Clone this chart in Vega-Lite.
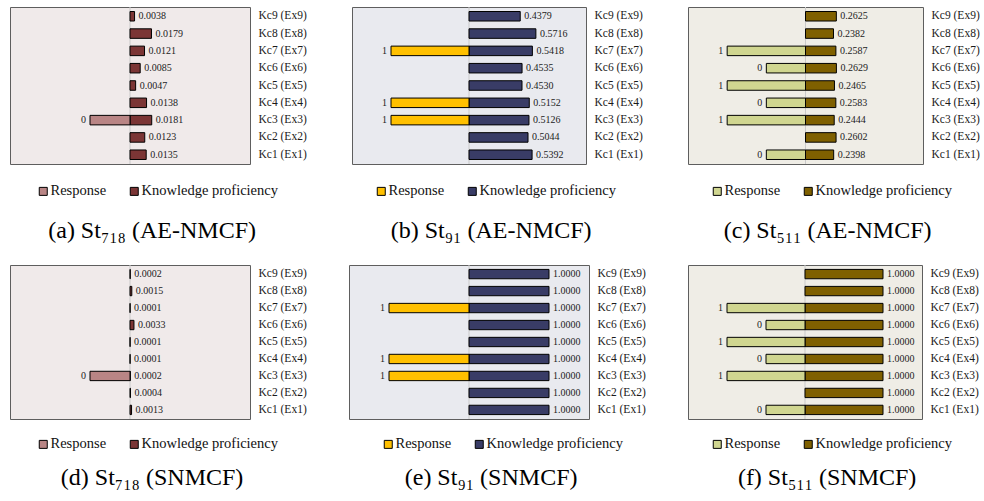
{
  "$schema": "https://vega.github.io/schema/vega-lite/v6.json",
  "padding": {"left": 9, "top": 6, "right": 0, "bottom": 0},
  "background": "white",
  "datasets": {
    "rows": [
      {"panel": "a", "kc": "Kc1 (Ex1)", "kp": 0.0135},
      {"panel": "a", "kc": "Kc2 (Ex2)", "kp": 0.0123},
      {"panel": "a", "kc": "Kc3 (Ex3)", "kp": 0.0181, "resp": 0},
      {"panel": "a", "kc": "Kc4 (Ex4)", "kp": 0.0138},
      {"panel": "a", "kc": "Kc5 (Ex5)", "kp": 0.0047},
      {"panel": "a", "kc": "Kc6 (Ex6)", "kp": 0.0085},
      {"panel": "a", "kc": "Kc7 (Ex7)", "kp": 0.0121},
      {"panel": "a", "kc": "Kc8 (Ex8)", "kp": 0.0179},
      {"panel": "a", "kc": "Kc9 (Ex9)", "kp": 0.0038},
      {"panel": "b", "kc": "Kc1 (Ex1)", "kp": 0.5392},
      {"panel": "b", "kc": "Kc2 (Ex2)", "kp": 0.5044},
      {"panel": "b", "kc": "Kc3 (Ex3)", "kp": 0.5126, "resp": 1},
      {"panel": "b", "kc": "Kc4 (Ex4)", "kp": 0.5152, "resp": 1},
      {"panel": "b", "kc": "Kc5 (Ex5)", "kp": 0.4530},
      {"panel": "b", "kc": "Kc6 (Ex6)", "kp": 0.4535},
      {"panel": "b", "kc": "Kc7 (Ex7)", "kp": 0.5418, "resp": 1},
      {"panel": "b", "kc": "Kc8 (Ex8)", "kp": 0.5716},
      {"panel": "b", "kc": "Kc9 (Ex9)", "kp": 0.4379},
      {"panel": "c", "kc": "Kc1 (Ex1)", "kp": 0.2398, "resp": 0},
      {"panel": "c", "kc": "Kc2 (Ex2)", "kp": 0.2602},
      {"panel": "c", "kc": "Kc3 (Ex3)", "kp": 0.2444, "resp": 1},
      {"panel": "c", "kc": "Kc4 (Ex4)", "kp": 0.2583, "resp": 0},
      {"panel": "c", "kc": "Kc5 (Ex5)", "kp": 0.2465, "resp": 1},
      {"panel": "c", "kc": "Kc6 (Ex6)", "kp": 0.2629, "resp": 0},
      {"panel": "c", "kc": "Kc7 (Ex7)", "kp": 0.2587, "resp": 1},
      {"panel": "c", "kc": "Kc8 (Ex8)", "kp": 0.2382},
      {"panel": "c", "kc": "Kc9 (Ex9)", "kp": 0.2625},
      {"panel": "d", "kc": "Kc1 (Ex1)", "kp": 0.0013},
      {"panel": "d", "kc": "Kc2 (Ex2)", "kp": 0.0004},
      {"panel": "d", "kc": "Kc3 (Ex3)", "kp": 0.0002, "resp": 0},
      {"panel": "d", "kc": "Kc4 (Ex4)", "kp": 0.0001},
      {"panel": "d", "kc": "Kc5 (Ex5)", "kp": 0.0001},
      {"panel": "d", "kc": "Kc6 (Ex6)", "kp": 0.0033},
      {"panel": "d", "kc": "Kc7 (Ex7)", "kp": 0.0001},
      {"panel": "d", "kc": "Kc8 (Ex8)", "kp": 0.0015},
      {"panel": "d", "kc": "Kc9 (Ex9)", "kp": 0.0002},
      {"panel": "e", "kc": "Kc1 (Ex1)", "kp": 1.0},
      {"panel": "e", "kc": "Kc2 (Ex2)", "kp": 1.0},
      {"panel": "e", "kc": "Kc3 (Ex3)", "kp": 1.0, "resp": 1},
      {"panel": "e", "kc": "Kc4 (Ex4)", "kp": 1.0, "resp": 1},
      {"panel": "e", "kc": "Kc5 (Ex5)", "kp": 1.0},
      {"panel": "e", "kc": "Kc6 (Ex6)", "kp": 1.0},
      {"panel": "e", "kc": "Kc7 (Ex7)", "kp": 1.0, "resp": 1},
      {"panel": "e", "kc": "Kc8 (Ex8)", "kp": 1.0},
      {"panel": "e", "kc": "Kc9 (Ex9)", "kp": 1.0},
      {"panel": "f", "kc": "Kc1 (Ex1)", "kp": 1.0, "resp": 0},
      {"panel": "f", "kc": "Kc2 (Ex2)", "kp": 1.0},
      {"panel": "f", "kc": "Kc3 (Ex3)", "kp": 1.0, "resp": 1},
      {"panel": "f", "kc": "Kc4 (Ex4)", "kp": 1.0, "resp": 0},
      {"panel": "f", "kc": "Kc5 (Ex5)", "kp": 1.0, "resp": 1},
      {"panel": "f", "kc": "Kc6 (Ex6)", "kp": 1.0, "resp": 0},
      {"panel": "f", "kc": "Kc7 (Ex7)", "kp": 1.0, "resp": 1},
      {"panel": "f", "kc": "Kc8 (Ex8)", "kp": 1.0},
      {"panel": "f", "kc": "Kc9 (Ex9)", "kp": 1.0}
    ]
  },
  "data": {"name": "rows"},
  "config": {
    "view": {"stroke": null},
    "axis": {"labelFont": "Liberation Serif", "labelFontSize": 11.5, "labelColor": "#1a1a1a", "ticks": false, "domain": false, "grid": false, "labelPadding": 8, "title": null},
    "legend": {"orient": "none", "direction": "horizontal", "title": null, "symbolType": "square", "symbolSize": 64, "symbolStrokeColor": "#000", "symbolStrokeWidth": 1, "symbolOpacity": 1, "labelFont": "Liberation Serif", "labelFontSize": 14.5, "labelColor": "#111", "columnPadding": 20, "labelOffset": 0},
    "title": {"font": "Liberation Serif", "fontSize": 24, "fontWeight": "normal", "color": "#000", "orient": "bottom", "anchor": "middle", "frame": "bounds", "offset": 21, "dx": -6},
    "text": {"font": "Liberation Serif", "fontSize": 10, "color": "#222"}
  },
  "resolve": {"scale": {"color": "independent", "x": "independent", "y": "independent"}},
  "spacing": 20,
  "vconcat": [
    {
      "spacing": 44,
      "resolve": {"scale": {"color": "independent", "x": "independent", "y": "independent"}},
      "hconcat": [
        {
          "width": 240, "height": 157,
          "view": {"fill": "#f0eaea", "stroke": "#5e5e5e", "strokeWidth": 1},
          "title": {"text": "(a) St₇₁₈ (AE-NMCF)"},
          "resolve": {"scale": {"x": "independent"}},
          "layer": [
            {"data": {"values": [{}]}, "mark": {"type": "rule", "color": "#c9c9c9"}, "encoding": {"x": {"datum": 0, "type": "quantitative", "scale": {"domain": [-0.1, 0.1], "nice": false}, "axis": null}}},
            {
              "transform": [{"filter": "datum.panel === 'a'"}],
              "encoding": {
                "y": {"field": "kc", "type": "nominal", "sort": "descending", "scale": {"paddingInner": 0.45, "paddingOuter": 0.26}, "axis": {"orient": "right"}},
                "x": {"field": "kp", "type": "quantitative", "scale": {"domain": [-0.1, 0.1], "nice": false}, "axis": null}
              },
              "layer": [
                {"mark": {"type": "bar", "stroke": "#000", "strokeWidth": 1}, "encoding": {"x2": {"datum": 0}, "color": {"datum": "Knowledge proficiency", "scale": {"domain": ["Response", "Knowledge proficiency"], "range": ["#b98585", "#7b3535"]}, "legend": {"legendX": 26, "legendY": 177}}}},
                {"mark": {"type": "text", "align": "left", "dx": 4}, "encoding": {"text": {"field": "kp", "format": ".4f"}}}
              ]
            },
            {
              "transform": [{"filter": "datum.panel === 'a' && isValid(datum.resp)"}],
              "encoding": {
                "y": {"field": "kc", "type": "nominal", "sort": "descending", "scale": {"paddingInner": 0.45, "paddingOuter": 0.26}, "axis": {"orient": "right"}},
                "x": {"field": "resp", "type": "quantitative", "scale": {"domain": [-4, 2], "reverse": true, "nice": false, "zero": false}, "axis": null}
              },
              "layer": [
                {"mark": {"type": "bar", "stroke": "#000", "strokeWidth": 1}, "encoding": {"x2": {"datum": -1}, "color": {"datum": "Response", "scale": {"domain": ["Response", "Knowledge proficiency"], "range": ["#b98585", "#7b3535"]}, "legend": {"legendX": 26, "legendY": 177}}}},
                {"mark": {"type": "text", "align": "right", "dx": -4}, "encoding": {"text": {"field": "resp", "format": "d"}}}
              ]
            }
          ]
        },
        {
          "width": 234, "height": 157,
          "view": {"fill": "#e9eaef", "stroke": "#5e5e5e", "strokeWidth": 1},
          "title": {"text": "(b) St₉₁ (AE-NMCF)"},
          "resolve": {"scale": {"x": "independent"}},
          "layer": [
            {"data": {"values": [{}]}, "mark": {"type": "rule", "color": "#c9c9c9"}, "encoding": {"x": {"datum": 0, "type": "quantitative", "scale": {"domain": [-1, 1], "nice": false}, "axis": null}}},
            {
              "transform": [{"filter": "datum.panel === 'b'"}],
              "encoding": {
                "y": {"field": "kc", "type": "nominal", "sort": "descending", "scale": {"paddingInner": 0.45, "paddingOuter": 0.26}, "axis": {"orient": "right"}},
                "x": {"field": "kp", "type": "quantitative", "scale": {"domain": [-1, 1], "nice": false}, "axis": null}
              },
              "layer": [
                {"mark": {"type": "bar", "stroke": "#000", "strokeWidth": 1}, "encoding": {"x2": {"datum": 0}, "color": {"datum": "Knowledge proficiency", "scale": {"domain": ["Response", "Knowledge proficiency"], "range": ["#ffc000", "#393c66"]}, "legend": {"legendX": 22, "legendY": 177}}}},
                {"mark": {"type": "text", "align": "left", "dx": 4}, "encoding": {"text": {"field": "kp", "format": ".4f"}}}
              ]
            },
            {
              "transform": [{"filter": "datum.panel === 'b' && isValid(datum.resp)"}],
              "encoding": {
                "y": {"field": "kc", "type": "nominal", "sort": "descending", "scale": {"paddingInner": 0.45, "paddingOuter": 0.26}, "axis": {"orient": "right"}},
                "x": {"field": "resp", "type": "quantitative", "scale": {"domain": [-4, 2], "reverse": true, "nice": false, "zero": false}, "axis": null}
              },
              "layer": [
                {"mark": {"type": "bar", "stroke": "#000", "strokeWidth": 1}, "encoding": {"x2": {"datum": -1}, "color": {"datum": "Response", "scale": {"domain": ["Response", "Knowledge proficiency"], "range": ["#ffc000", "#393c66"]}, "legend": {"legendX": 22, "legendY": 177}}}},
                {"mark": {"type": "text", "align": "right", "dx": -4}, "encoding": {"text": {"field": "resp", "format": "d"}}}
              ]
            }
          ]
        },
        {
          "width": 235, "height": 157,
          "view": {"fill": "#efede6", "stroke": "#5e5e5e", "strokeWidth": 1},
          "title": {"text": "(c) St₅₁₁ (AE-NMCF)"},
          "resolve": {"scale": {"x": "independent"}},
          "layer": [
            {"data": {"values": [{}]}, "mark": {"type": "rule", "color": "#c9c9c9"}, "encoding": {"x": {"datum": 0, "type": "quantitative", "scale": {"domain": [-1, 1], "nice": false}, "axis": null}}},
            {
              "transform": [{"filter": "datum.panel === 'c'"}],
              "encoding": {
                "y": {"field": "kc", "type": "nominal", "sort": "descending", "scale": {"paddingInner": 0.45, "paddingOuter": 0.26}, "axis": {"orient": "right"}},
                "x": {"field": "kp", "type": "quantitative", "scale": {"domain": [-1, 1], "nice": false}, "axis": null}
              },
              "layer": [
                {"mark": {"type": "bar", "stroke": "#000", "strokeWidth": 1}, "encoding": {"x2": {"datum": 0}, "color": {"datum": "Knowledge proficiency", "scale": {"domain": ["Response", "Knowledge proficiency"], "range": ["#d0d690", "#7f6000"]}, "legend": {"legendX": 22, "legendY": 177}}}},
                {"mark": {"type": "text", "align": "left", "dx": 4}, "encoding": {"text": {"field": "kp", "format": ".4f"}}}
              ]
            },
            {
              "transform": [{"filter": "datum.panel === 'c' && isValid(datum.resp)"}],
              "encoding": {
                "y": {"field": "kc", "type": "nominal", "sort": "descending", "scale": {"paddingInner": 0.45, "paddingOuter": 0.26}, "axis": {"orient": "right"}},
                "x": {"field": "resp", "type": "quantitative", "scale": {"domain": [-4, 2], "reverse": true, "nice": false, "zero": false}, "axis": null}
              },
              "layer": [
                {"mark": {"type": "bar", "stroke": "#000", "strokeWidth": 1}, "encoding": {"x2": {"datum": -1}, "color": {"datum": "Response", "scale": {"domain": ["Response", "Knowledge proficiency"], "range": ["#d0d690", "#7f6000"]}, "legend": {"legendX": 22, "legendY": 177}}}},
                {"mark": {"type": "text", "align": "right", "dx": -4}, "encoding": {"text": {"field": "resp", "format": "d"}}}
              ]
            }
          ]
        }
      ]
    },
    {
      "spacing": 41,
      "resolve": {"scale": {"color": "independent", "x": "independent", "y": "independent"}},
      "hconcat": [
        {
          "width": 240, "height": 154,
          "view": {"fill": "#f0eaea", "stroke": "#5e5e5e", "strokeWidth": 1},
          "title": {"text": "(d) St₇₁₈ (SNMCF)", "offset": 15},
          "resolve": {"scale": {"x": "independent"}},
          "layer": [
            {"data": {"values": [{}]}, "mark": {"type": "rule", "color": "#c9c9c9"}, "encoding": {"x": {"datum": 0, "type": "quantitative", "scale": {"domain": [-0.1, 0.1], "nice": false}, "axis": null}}},
            {
              "transform": [{"filter": "datum.panel === 'd'"}],
              "encoding": {
                "y": {"field": "kc", "type": "nominal", "sort": "descending", "scale": {"paddingInner": 0.45, "paddingOuter": 0.26}, "axis": {"orient": "right"}},
                "x": {"field": "kp", "type": "quantitative", "scale": {"domain": [-0.1, 0.1], "nice": false}, "axis": null}
              },
              "layer": [
                {"mark": {"type": "bar", "stroke": "#000", "strokeWidth": 1}, "encoding": {"x2": {"datum": 0}, "color": {"datum": "Knowledge proficiency", "scale": {"domain": ["Response", "Knowledge proficiency"], "range": ["#b98585", "#7b3535"]}, "legend": {"legendX": 26, "legendY": 172}}}},
                {"mark": {"type": "text", "align": "left", "dx": 4}, "encoding": {"text": {"field": "kp", "format": ".4f"}}}
              ]
            },
            {
              "transform": [{"filter": "datum.panel === 'd' && isValid(datum.resp)"}],
              "encoding": {
                "y": {"field": "kc", "type": "nominal", "sort": "descending", "scale": {"paddingInner": 0.45, "paddingOuter": 0.26}, "axis": {"orient": "right"}},
                "x": {"field": "resp", "type": "quantitative", "scale": {"domain": [-4, 2], "reverse": true, "nice": false, "zero": false}, "axis": null}
              },
              "layer": [
                {"mark": {"type": "bar", "stroke": "#000", "strokeWidth": 1}, "encoding": {"x2": {"datum": -1}, "color": {"datum": "Response", "scale": {"domain": ["Response", "Knowledge proficiency"], "range": ["#b98585", "#7b3535"]}, "legend": {"legendX": 26, "legendY": 172}}}},
                {"mark": {"type": "text", "align": "right", "dx": -4}, "encoding": {"text": {"field": "resp", "format": "d"}}}
              ]
            }
          ]
        },
        {
          "width": 240, "height": 154,
          "view": {"fill": "#e9eaef", "stroke": "#5e5e5e", "strokeWidth": 1},
          "title": {"text": "(e) St₉₁ (SNMCF)", "offset": 15},
          "resolve": {"scale": {"x": "independent"}},
          "layer": [
            {"data": {"values": [{}]}, "mark": {"type": "rule", "color": "#c9c9c9"}, "encoding": {"x": {"datum": 0, "type": "quantitative", "scale": {"domain": [-1.5, 1.5], "nice": false}, "axis": null}}},
            {
              "transform": [{"filter": "datum.panel === 'e'"}],
              "encoding": {
                "y": {"field": "kc", "type": "nominal", "sort": "descending", "scale": {"paddingInner": 0.45, "paddingOuter": 0.26}, "axis": {"orient": "right"}},
                "x": {"field": "kp", "type": "quantitative", "scale": {"domain": [-1.5, 1.5], "nice": false}, "axis": null}
              },
              "layer": [
                {"mark": {"type": "bar", "stroke": "#000", "strokeWidth": 1}, "encoding": {"x2": {"datum": 0}, "color": {"datum": "Knowledge proficiency", "scale": {"domain": ["Response", "Knowledge proficiency"], "range": ["#ffc000", "#393c66"]}, "legend": {"legendX": 32, "legendY": 172}}}},
                {"mark": {"type": "text", "align": "left", "dx": 4}, "encoding": {"text": {"field": "kp", "format": ".4f"}}}
              ]
            },
            {
              "transform": [{"filter": "datum.panel === 'e' && isValid(datum.resp)"}],
              "encoding": {
                "y": {"field": "kc", "type": "nominal", "sort": "descending", "scale": {"paddingInner": 0.45, "paddingOuter": 0.26}, "axis": {"orient": "right"}},
                "x": {"field": "resp", "type": "quantitative", "scale": {"domain": [-4, 2], "reverse": true, "nice": false, "zero": false}, "axis": null}
              },
              "layer": [
                {"mark": {"type": "bar", "stroke": "#000", "strokeWidth": 1}, "encoding": {"x2": {"datum": -1}, "color": {"datum": "Response", "scale": {"domain": ["Response", "Knowledge proficiency"], "range": ["#ffc000", "#393c66"]}, "legend": {"legendX": 32, "legendY": 172}}}},
                {"mark": {"type": "text", "align": "right", "dx": -4}, "encoding": {"text": {"field": "resp", "format": "d"}}}
              ]
            }
          ]
        },
        {
          "width": 234, "height": 154,
          "view": {"fill": "#efede6", "stroke": "#5e5e5e", "strokeWidth": 1},
          "title": {"text": "(f) St₅₁₁ (SNMCF)", "offset": 15},
          "resolve": {"scale": {"x": "independent"}},
          "layer": [
            {"data": {"values": [{}]}, "mark": {"type": "rule", "color": "#c9c9c9"}, "encoding": {"x": {"datum": 0, "type": "quantitative", "scale": {"domain": [-1.5, 1.5], "nice": false}, "axis": null}}},
            {
              "transform": [{"filter": "datum.panel === 'f'"}],
              "encoding": {
                "y": {"field": "kc", "type": "nominal", "sort": "descending", "scale": {"paddingInner": 0.45, "paddingOuter": 0.26}, "axis": {"orient": "right"}},
                "x": {"field": "kp", "type": "quantitative", "scale": {"domain": [-1.5, 1.5], "nice": false}, "axis": null}
              },
              "layer": [
                {"mark": {"type": "bar", "stroke": "#000", "strokeWidth": 1}, "encoding": {"x2": {"datum": 0}, "color": {"datum": "Knowledge proficiency", "scale": {"domain": ["Response", "Knowledge proficiency"], "range": ["#d0d690", "#7f6000"]}, "legend": {"legendX": 22, "legendY": 172}}}},
                {"mark": {"type": "text", "align": "left", "dx": 4}, "encoding": {"text": {"field": "kp", "format": ".4f"}}}
              ]
            },
            {
              "transform": [{"filter": "datum.panel === 'f' && isValid(datum.resp)"}],
              "encoding": {
                "y": {"field": "kc", "type": "nominal", "sort": "descending", "scale": {"paddingInner": 0.45, "paddingOuter": 0.26}, "axis": {"orient": "right"}},
                "x": {"field": "resp", "type": "quantitative", "scale": {"domain": [-4, 2], "reverse": true, "nice": false, "zero": false}, "axis": null}
              },
              "layer": [
                {"mark": {"type": "bar", "stroke": "#000", "strokeWidth": 1}, "encoding": {"x2": {"datum": -1}, "color": {"datum": "Response", "scale": {"domain": ["Response", "Knowledge proficiency"], "range": ["#d0d690", "#7f6000"]}, "legend": {"legendX": 22, "legendY": 172}}}},
                {"mark": {"type": "text", "align": "right", "dx": -4}, "encoding": {"text": {"field": "resp", "format": "d"}}}
              ]
            }
          ]
        }
      ]
    }
  ]
}
